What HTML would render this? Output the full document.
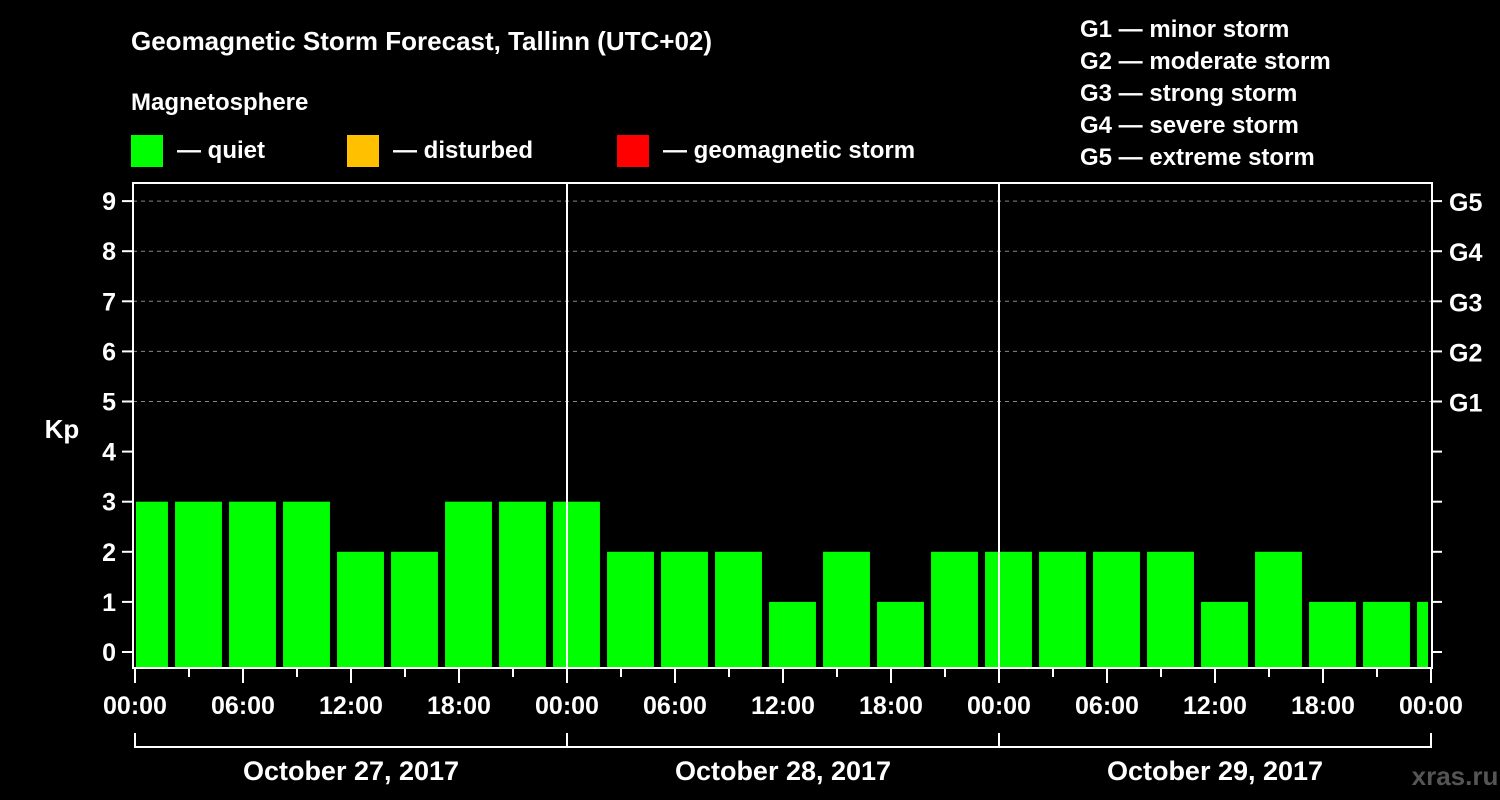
<!DOCTYPE html>
<html><head><meta charset="utf-8"><style>
body{margin:0;background:#000;}
svg{display:block;font-family:"Liberation Sans",sans-serif;font-weight:bold;}
</style></head><body>
<svg id="chart" width="1500" height="800" viewBox="0 0 1500 800">
<rect width="1500" height="800" fill="#000"/>
<text x="131" y="50" fill="#fff" font-size="26">Geomagnetic Storm Forecast, Tallinn (UTC+02)</text>
<text x="131" y="110" fill="#fff" font-size="24">Magnetosphere</text>
<g><rect x="131" y="135" width="32" height="32" fill="#00ff00"/><text x="177" y="158" fill="#fff" font-size="24">— quiet</text></g>
<g><rect x="347" y="135" width="32" height="32" fill="#ffc000"/><text x="393" y="158" fill="#fff" font-size="24">— disturbed</text></g>
<g><rect x="617" y="135" width="32" height="32" fill="#ff0000"/><text x="663" y="158" fill="#fff" font-size="24">— geomagnetic storm</text></g>
<g fill="#fff" font-size="24">
<text x="1080" y="37">G1 — minor storm</text>
<text x="1080" y="69">G2 — moderate storm</text>
<text x="1080" y="101">G3 — strong storm</text>
<text x="1080" y="133">G4 — severe storm</text>
<text x="1080" y="165">G5 — extreme storm</text>
</g>
<text x="62" y="438" fill="#fff" font-size="26" text-anchor="middle">Kp</text>
<text x="1455" y="785" fill="#555" font-size="26" text-anchor="middle">xras.ru</text>
<g id="layer"></g>
</svg>
<script>
const values=[3,3,3,3,2,2,3,3,3,2,2,2,1,2,1,2,2,2,2,2,1,2,1,1,1];
const yTicks=[0,1,2,3,4,5,6,7,8,9];
const gLabels=["G1","G2","G3","G4","G5"];
const gLevels=[5,6,7,8,9];
const xTickLabels=["00:00","06:00","12:00","18:00","00:00","06:00","12:00","18:00","00:00","06:00","12:00","18:00","00:00"];
const dayLabels=["October 27, 2017","October 28, 2017","October 29, 2017"];
const L=133,R=1432,T=183,B=668;
const x=h=>135+h*18;
const y=v=>652-v*50.1;
const NS="http://www.w3.org/2000/svg";
const layer=document.getElementById('layer');
function mk(tag,attrs,parent){const e=document.createElementNS(NS,tag);for(const k in attrs)e.setAttribute(k,attrs[k]);(parent||layer).appendChild(e);return e;}
// grid
gLevels.forEach(v=>{const l=mk('line',{x1:L,x2:R,y1:y(v),y2:y(v),stroke:'#888','stroke-dasharray':'4,4','stroke-width':1});

});
// bars
values.forEach((v,i)=>{let x0=x(3*i-0.83)+1,x1=x(3*i+1.83);x0=Math.max(x0,136);x1=Math.min(x1,R-4);
const r=mk('rect',{x:x0,y:y(v),width:x1-x0,height:B-y(v),fill:'#00ff00'});

});
// day separators
[1,2].forEach(d=>{const l=mk('line',{x1:x(24*d),x2:x(24*d),y1:T,y2:B,stroke:'#fff','stroke-width':2});

});
// frame
const f=mk('rect',{x:L,y:T,width:R-L,height:B-T,fill:'none',stroke:'#fff','stroke-width':2});


// y ticks
yTicks.forEach(v=>{mk('line',{x1:122,x2:L,y1:y(v),y2:y(v),stroke:'#fff','stroke-width':2});
mk('line',{x1:R,x2:R+10,y1:y(v),y2:y(v),stroke:'#fff','stroke-width':2});
const t=mk('text',{x:116,y:y(v)+9,fill:'#fff','font-size':25,'text-anchor':'end'});t.textContent=v;

});
gLabels.forEach((g,i)=>{const t=mk('text',{x:1449,y:y(gLevels[i])+10,fill:'#fff','font-size':25});t.textContent=g;

});
// x ticks
for(let h=0;h<=72;h+=3){const maj=h%6===0;mk('line',{x1:x(h),x2:x(h),y1:B+1,y2:B+(maj?15:9),stroke:'#fff','stroke-width':2});}
xTickLabels.forEach((s,i)=>{const t=mk('text',{x:x(i*6),y:714,fill:'#fff','font-size':25,'text-anchor':'middle'});t.textContent=s;

});
// day brackets
mk('line',{x1:x(0),x2:x(72),y1:747,y2:747,stroke:'#fff','stroke-width':2});
[0,1,2,3].forEach(d=>mk('line',{x1:x(24*d),x2:x(24*d),y1:733,y2:748,stroke:'#fff','stroke-width':2}));
dayLabels.forEach((s,i)=>{const t=mk('text',{x:x(24*i+12),y:780,fill:'#fff','font-size':27,'text-anchor':'middle'});t.textContent=s;

});
</script>
</body></html>
